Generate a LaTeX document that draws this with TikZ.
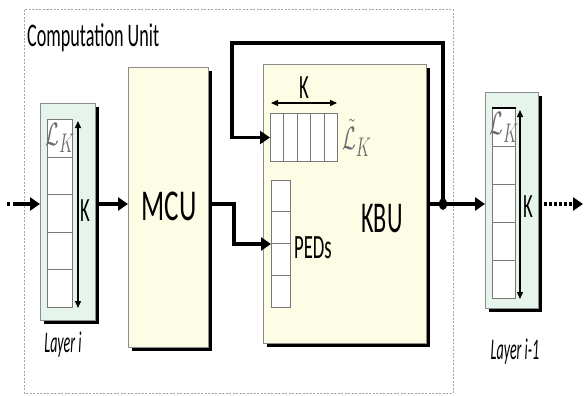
\documentclass[tikz,border=0pt]{standalone}
\usepackage{fontspec}
\usepackage{graphicx}
\setmainfont{Carlito}[FakeStretch=0.55]
\usetikzlibrary{arrows.meta,shadows,calc}
\definecolor{layergreen}{RGB}{230,245,235}
\definecolor{unityellow}{RGB}{253,253,230}
\definecolor{edgegray}{RGB}{140,140,140}
\definecolor{cellgray}{RGB}{120,120,120}
\begin{document}
\begin{tikzpicture}[x=1pt,y=-1pt,
  shadowed/.style={drop shadow={shadow xshift=3.5pt,shadow yshift=-3.5pt,opacity=1,fill=black}},
  layerbox/.style={draw=edgegray,line width=0.9pt,fill=layergreen,shadowed,anchor=north west,inner sep=0},
  unitbox/.style={draw=edgegray,line width=0.9pt,fill=unityellow,shadowed,anchor=north west,inner sep=0},
  cellbox/.style={draw=cellgray,line width=1pt,fill=white,anchor=north west,inner sep=0},
  mainarrow/.style={line width=3.8pt,line join=miter,-{Triangle[length=10pt,width=13pt]}},
  thinarrow/.style={line width=1.3pt,{Triangle[length=7pt,width=6pt]}-{Triangle[length=7pt,width=6pt]}},
  lbl/.style={inner sep=0},
  big/.style={lbl,font=\fontsize{44}{44}\selectfont},
  mid/.style={lbl,font=\fontsize{34}{34}\selectfont},
  ital/.style={lbl,font=\fontsize{30}{30}\selectfont\itshape},
  mathlbl/.style={lbl,text=gray!85!black,font=\fontsize{24.88}{26}\selectfont}
]
\useasboundingbox (0,0) rectangle (584,396);

% dashed computation unit frame
\draw[gray!70,line width=1pt,dash pattern=on 2pt off 1.5pt] (24,10) rectangle (453,393);
\node[lbl,anchor=west,font=\fontsize{33}{33}\selectfont] (title) at (27,38) {Computation Unit};

% Layer i
\node[layerbox,minimum width=55pt,minimum height=217pt] (li) at (40,103) {};
\foreach \i in {0,...,4}
  \node[cellbox,minimum width=25pt,minimum height=37.6pt] (lic\i) at (47,{119+37.6*\i}) {};
\node[mathlbl] (lilk) at (lic0) {\scalebox{0.8}[1.3]{$\mathcal{L}_K$}};
\coordinate (litop) at (78,121);
\coordinate (libot) at (78,308);
\draw[thinarrow] (libot) -- (litop);
\node[mid] (lik) at (85,211) {K};
\node[ital] (lilab) at (63,345) {\scalebox{0.85}[1]{Layer i}};

% MCU
\node[unitbox,minimum width=80pt,minimum height=280pt] (mcu) at (128,67) {};
\node[big] (mcut) at (169,206) {\scalebox{1.12}[1]{MCU}};

% KBU
\node[unitbox,minimum width=163pt,minimum height=279pt] (kbu) at (263,64) {};
\node[big] (kbut) at (382,219) {KBU};

% C-tilde row
\node[cellbox,minimum width=67pt,minimum height=48pt] (crow) at (270,113) {};
\foreach \x in {283.5,297,310.5,324} \draw[cellgray,line width=1pt] (\x,113) -- (\x,161);
\coordinate (kl) at (271,103);
\coordinate (kr) at (337,103);
\draw[thinarrow] (kl) -- (kr);
\node[mid] (ckk) at (304,88) {K};
\node[mathlbl,anchor=west] (clk) at (342,138) {\scalebox{0.8}[1.3]{$\tilde{\mathcal{L}}_K$}};

% PEDs column
\node[cellbox,minimum width=19pt,minimum height=127pt] (peds) at (271,180) {};
\foreach \y in {211.75,243.5,275.25} \draw[cellgray,line width=1pt] (271,\y) -- (290,\y);
\node[mid,anchor=west] (pedst) at (294,248) {PEDs};

% Layer i-1
\node[layerbox,minimum width=53pt,minimum height=216pt] (l1) at (485,92) {};
\foreach \i in {0,...,4}
  \node[cellbox,minimum width=23pt,minimum height=38pt] (l1c\i) at (492,{108+38*\i}) {};
\draw[black,line width=2pt] (l1c0.north west) -- (l1c0.north east);
\node[mathlbl] (l1lk) at (l1c0) {\scalebox{0.8}[1.3]{$\mathcal{L}_K$}};
\coordinate (l1top) at (520,110);
\coordinate (l1bot) at (520,299);
\draw[thinarrow] (l1bot) -- (l1top);
\node[mid] (l1k) at (528,207) {K};
\node[ital] (l1lab) at (515,352) {\scalebox{0.85}[1]{Layer i-1}};

% connectors
\coordinate (ay) at (0,204);
\coordinate (instart) at (13,204);
\fill (7,202) rectangle (10,206);
\draw[mainarrow] (instart) -- (li.west |- ay);
\draw[mainarrow] (li.east |- ay) -- (mcu.west |- ay);
\coordinate (bend) at (234,204);
\draw[mainarrow] (mcu.east |- ay) -- (bend) |- (peds.west);
\coordinate (jn) at (443,204);
\draw[mainarrow] (kbu.east |- ay) -- (l1.west |- ay);
\fill (jn) ellipse (4pt and 6pt);
\coordinate (looptop) at (232,43);
\draw[mainarrow] (jn) |- (looptop) |- (crow.west);
\coordinate (outend) at (583,204);
\draw[line width=3.8pt,dash pattern=on 3pt off 2pt,-{Triangle[length=10pt,width=13pt]}] (l1.east |- ay) -- (outend);
\end{tikzpicture}
\end{document}
